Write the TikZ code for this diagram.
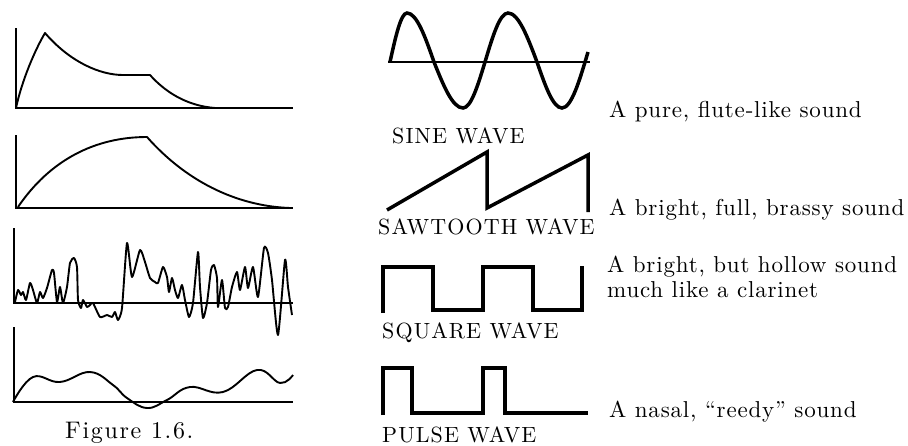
\documentclass[tikz,border=0pt]{standalone}
\usepackage{fontspec}
\usepackage{tikz}
\usetikzlibrary{arrows.meta}
\newfontfamily\bookrm{lmroman10-regular.otf}
\newcommand{\wavelbl}{\bookrm\fontsize{22}{24}\selectfont\addfontfeatures{LetterSpace=5}}
\newcommand{\wavedesc}{\bookrm\fontsize{23}{25}\selectfont\addfontfeatures{LetterSpace=3.5}}
\begin{document}
\begin{tikzpicture}[x=1pt, y=-1pt, env/.style = {line width=1.9pt, line join=round}, axis/.style = {line width=1.3pt}, wave/.style = {line width=3.5pt, line join=miter}, lbl/.style = {inner sep=0pt, anchor=base west, font=\wavelbl}, desc/.style = {inner sep=0pt, anchor=base west, align=left, font=\wavedesc}]
                \useasboundingbox[fill=white] (0,0) rectangle (908,445);
                \draw[axis] (16,28) -- (16,108) -- (293,108);
                \draw[env] (16,108) .. controls (22,80) and (35,50) .. (45,33) .. controls (70,62) and (100,75) .. (123,75) -- (150,75) .. controls (168,95) and (190,106) .. (215,108);
                \draw[axis] (16,135) -- (16,208) -- (293,208);
                \draw[env] (18,207) .. controls (50,160) and (95,137) .. (147,137) .. controls (185,180) and (235,206) .. (290,208);
                \draw[axis] (14,228) -- (14,303) -- (293,303);
                \draw[env] plot[smooth, tension=0.35] coordinates {(15,302) (18,290) (21,295) (23,292) (26,300) (30,283) (33,290) (37,303) (40,292) (43,298) (47,288) (52,270) (54,273) (57,302) (60,287) (63,303) (67,287) (70,263) (74,258) (77,267) (78,300) (81,308) (83,300) (87,307) (90,305) (93,303) (100,317) (107,315) (112,317) (115,312) (118,320) (122,308) (127,243) (132,277) (140,250) (145,262) (150,278) (155,282) (158,283) (163,267) (167,277) (169,292) (172,278) (175,290) (178,298) (182,285) (185,300) (189,317) (193,303) (198,252) (200,287) (203,318) (207,303) (211,270) (214,265) (217,278) (218,307) (222,280) (225,308) (228,307) (232,287) (237,272) (240,290) (245,267) (248,288) (253,267) (258,297) (264,248) (268,253) (272,280) (278,335) (285,260) (288,287) (292,315)};
                \draw[axis] (14,327) -- (14,402) -- (293,402);
                \draw[env] plot[smooth, tension=0.7] coordinates {(13,402) (33,377) (60,382) (90,372) (113,385) (127,398) (147,408) (167,400) (190,387) (223,392) (257,370) (280,383) (293,375)};
                \node (fig) at (65,438) [lbl, font=\bookrm\fontsize{24}{26}\selectfont\addfontfeatures{LetterSpace=7}] {Figure 1.6.};
                \draw[axis] (388,62) -- (590,62);
                \draw[wave] (390,62) sin (407,13) cos (434,62) sin (463,108) cos (485,62) sin (508,13) cos (537,62) sin (562,108) cos (588,52);
                \node (sine) at (392,143) [lbl] {SINE WAVE};
                \node (sinetxt) at (609,117) [desc] {A pure, flute-like sound};
                \draw[wave] (387,210) -- (487,152) -- (487,208) -- (588,155) -- (588,212);
                \node (saw) at (378,234) [lbl] {SAWTOOTH WAVE};
                \node (sawtxt) at (609,215) [desc] {A bright, full, brassy sound};
                \draw[wave] (383,313) -- (383,267) -- (433,267) -- (433,310) -- (483,310) -- (483,267) -- (533,267) -- (533,310) -- (582,310) -- (582,266);
                \node (square) at (382,338) [lbl] {SQUARE WAVE};
                \node (squaretxt) at (607,297) [desc] {A bright, but hollow sound\\much like a clarinet};
                \draw[wave] (383,415) -- (383,368) -- (412,368) -- (412,413) -- (483,413) -- (483,368) -- (505,368) -- (505,413) -- (588,413);
                \node (pulse) at (382,442) [lbl] {PULSE WAVE};
                \node (pulsetxt) at (609,417) [desc] {A nasal, “reedy” sound};
            \end{tikzpicture}
\end{document}
